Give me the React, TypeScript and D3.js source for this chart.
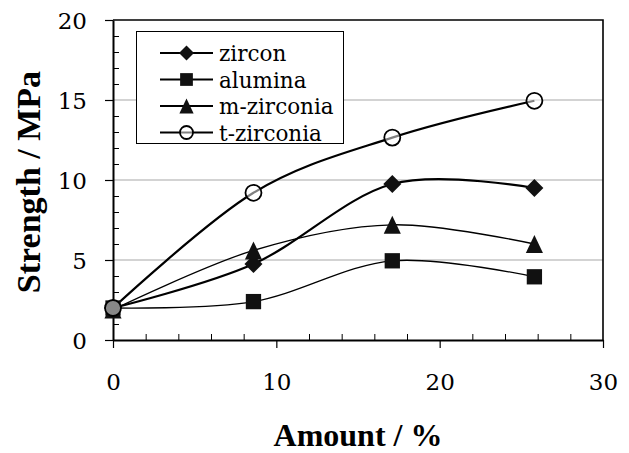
import React, { useEffect, useRef } from 'react'
import * as d3 from 'd3'

// values
const amounts = [0, 8.6, 17.1, 25.8]
const zircon = [2.0, 4.75, 9.75, 9.5]
const alumina = [2.0, 2.4, 4.95, 3.95]
const mZirconia = [1.9, 5.6, 7.2, 6.0]
const tZirconia = [2.0, 9.2, 12.65, 14.95]
const seriesNames = ['zircon', 'alumina', 'm-zirconia', 't-zirconia']
const xTicks = [0, 10, 20, 30]
const yTicks = [0, 5, 10, 15, 20]

const W = 629
const H = 453
const margin = { left: 113, right: 26, top: 20, bottom: 113 }
const serif = 'DejaVu Serif'
const boldSerif = 'Liberation Serif'

// marker path centred on its bounding box
const markerPath = (shape: string, s: number) => {
  if (shape === 'diamond') return `M0,${-s}L${s},0L0,${s}L${-s},0Z`
  if (shape === 'square') return `M${-s * 0.85},${-s * 0.85}h${s * 1.7}v${s * 1.7}h${-s * 1.7}Z`
  if (shape === 'triangle') return `M0,${-s}L${s * 0.95},${s}L${-s * 0.95},${s}Z`
  return ''
}

export default function App() {
  const ref = useRef<SVGSVGElement>(null)

  useEffect(() => {
    const svg = d3.select(ref.current)
    svg.selectAll('*').remove()
    const width = W - margin.left - margin.right
    const height = H - margin.top - margin.bottom

    const x = d3.scaleLinear().domain([0, 30]).range([0, width])
    const y = d3.scaleLinear().domain([0, 20]).range([height, 0])

    const g = svg.append('g').attr('transform', 'translate(' + margin.left + ',' + margin.top + ')')

    // grid lines
    g.append('g')
      .selectAll('line')
      .data([5, 10, 15])
      .enter()
      .append('line')
      .attr('x1', 0)
      .attr('x2', width)
      .attr('y1', (d) => y(d))
      .attr('y2', (d) => y(d))
      .style('stroke', '#a8a8a8')
      .style('stroke-width', 1.2)

    // frame (top + right)
    g.append('path')
      .attr('d', `M0,0H${width}V${height}`)
      .style('fill', 'none')
      .style('stroke', '#000')
      .style('stroke-width', 1.6)

    // minor ticks pointing inward
    const yMinor = d3.range(0, 21).filter((v) => v % 5 !== 0)
    g.append('g')
      .call(d3.axisRight(y).tickValues(yMinor).tickSize(6).tickFormat(() => ''))
      .call((a) => a.select('.domain').remove())
      .selectAll('line')
      .style('stroke-width', 1)

    const xMinor = d3.range(0, 31, 2).filter((v) => v % 10 !== 0)
    g.append('g')
      .attr('transform', 'translate(0,' + height + ')')
      .call(d3.axisTop(x).tickValues(xMinor).tickSize(6).tickFormat(() => ''))
      .call((a) => a.select('.domain').remove())
      .selectAll('line')
      .style('stroke-width', 1)

    // major axes
    const yAxis = g.append('g').call(d3.axisLeft(y).tickValues(yTicks).tickSize(8).tickSizeOuter(0).tickPadding(18))
    yAxis.attr('font-family', serif).attr('font-size', 23)
    yAxis.select('.domain').style('stroke-width', 2)
    yAxis.selectAll('line').style('stroke-width', 1.2)
    yAxis.selectAll('text').attr('dy', '0.36em')

    const xAxis = g
      .append('g')
      .attr('transform', 'translate(0,' + height + ')')
      .call(d3.axisBottom(x).tickValues(xTicks).tickSize(8).tickSizeOuter(0).tickPadding(28))
    xAxis.attr('font-family', serif).attr('font-size', 23)
    xAxis.select('.domain').style('stroke-width', 2.2)
    xAxis.selectAll('line').style('stroke-width', 1.2)
    xAxis.selectAll('text').attr('dy', '0.6em')

    // axis titles
    svg.append('text')
      .attr('x', margin.left + width / 2)
      .attr('y', 446)
      .attr('text-anchor', 'middle')
      .attr('font-family', boldSerif)
      .attr('font-weight', 'bold')
      .attr('font-size', 32)
      .text('Amount / %')

    svg.append('text')
      .attr('text-anchor', 'middle')
      .attr('transform', 'translate(40,' + (margin.top + height / 2 + 2) + ')rotate(-90)')
      .attr('font-family', boldSerif)
      .attr('font-weight', 'bold')
      .attr('font-size', 34)
      .text('Strength / MPa')

    const series = [
      { name: seriesNames[0], values: zircon, shape: 'diamond', lw: 2.2 },
      { name: seriesNames[1], values: alumina, shape: 'square', lw: 1.3 },
      { name: seriesNames[2], values: mZirconia, shape: 'triangle', lw: 1.3 },
      { name: seriesNames[3], values: tZirconia, shape: 'circle', lw: 2.2 },
    ]

    const line = d3
      .line<number>()
      .x((_, i) => x(amounts[i]))
      .y((d) => y(d))
      .curve(d3.curveCatmullRom.alpha(0))

    series.forEach((s) => {
      g.append('path')
        .datum(s.values)
        .attr('d', line)
        .style('fill', 'none')
        .style('stroke', '#000')
        .style('stroke-width', s.lw)
    })

    const drawMarker = (parent: any, shape: string, cx: number, cy: number, size: number) => {
      if (shape === 'circle') {
        parent.append('circle')
          .attr('cx', cx)
          .attr('cy', cy)
          .attr('r', size - 1)
          .style('fill', '#fff')
          .style('fill-opacity', 0.5)
          .style('stroke', '#000')
          .style('stroke-width', 1.8)
      } else {
        parent.append('path')
          .attr('d', markerPath(shape, size))
          .attr('transform', 'translate(' + cx + ',' + cy + ')')
          .style('fill', '#111')
      }
    }

    series.forEach((s) => {
      s.values.forEach((v, i) => drawMarker(g, s.shape, x(amounts[i]), y(v), 9))
    })

    // legend
    const lg = svg.append('g')
    lg.append('rect')
      .attr('x', 136.5)
      .attr('y', 31.5)
      .attr('width', 207)
      .attr('height', 112)
      .style('fill', '#fff')
      .style('stroke', '#000')
      .style('stroke-width', 1)

    series.forEach((s, i) => {
      const cy = 53 + i * 26.5
      lg.append('line')
        .attr('x1', 160)
        .attr('x2', 213)
        .attr('y1', cy)
        .attr('y2', cy)
        .style('stroke', '#000')
        .style('stroke-width', 1.8)
      drawMarker(lg, s.shape, 186.5, cy, 7.5)
      lg.append('text')
        .attr('x', 219)
        .attr('y', cy + 8)
        .attr('font-family', serif)
        .attr('font-size', 21.5)
        .text(s.name)
    })
  }, [])

  return (
    <div style={{ position: 'absolute', left: 0, top: 0 }}>
      <svg width={W} height={H} ref={ref} style={{ display: 'block', background: '#fff' }}></svg>
    </div>
  )
}
